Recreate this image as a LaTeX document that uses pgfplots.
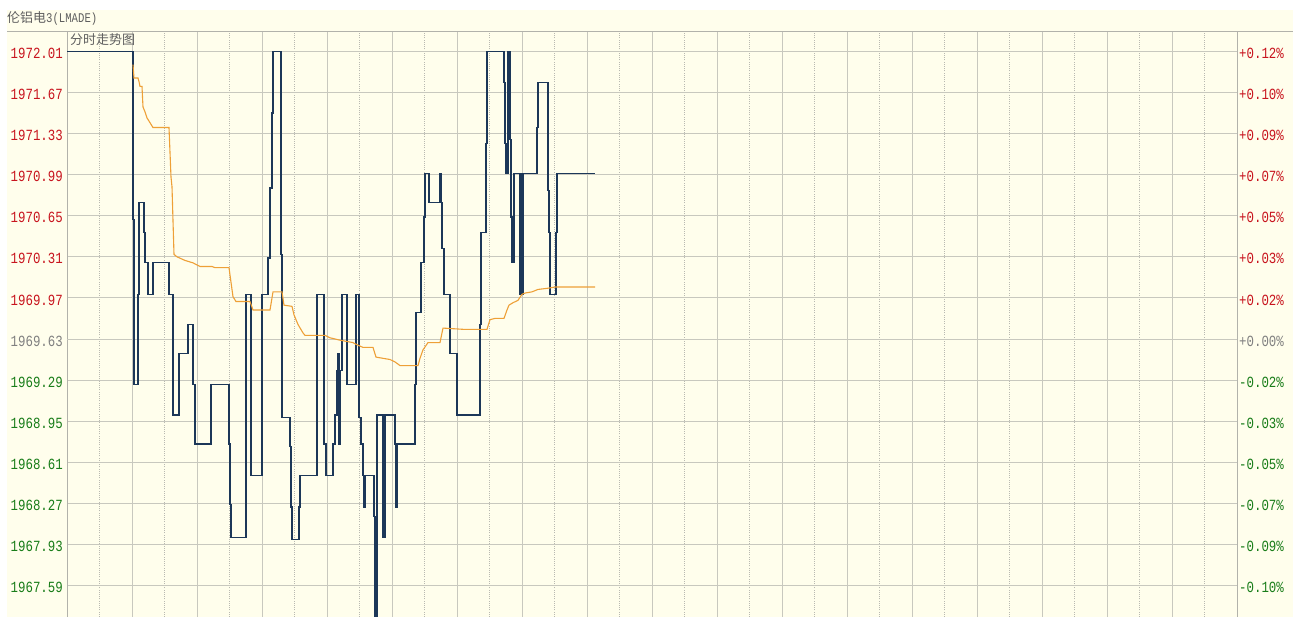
\documentclass[border=0pt]{standalone}
\usepackage{fontspec}
\usepackage{pgfplots}
\pgfplotsset{compat=1.18}
\setmainfont{Liberation Sans}
\newfontfamily\cjk{Noto Sans CJK SC}
\newfontfamily\numfont[FakeStretch=0.8]{Liberation Mono}
\definecolor{bg}{RGB}{255,254,236}
\definecolor{gridc}{RGB}{200,200,190}
\definecolor{navy}{RGB}{28,55,88}
\definecolor{orng}{RGB}{238,160,55}
\definecolor{upred}{RGB}{200,20,30}
\definecolor{dngreen}{RGB}{25,125,25}
\definecolor{flatgray}{RGB}{128,128,128}
\definecolor{titlegray}{RGB}{95,95,95}

\pgfplotstableread{
x y
0 1972.01
66 1970.62
67 1969.25
71 1970.00
72 1970.76
77 1970.51
78 1970.26
81 1970.00
86 1970.26
102 1970.00
106 1969.00
112 1969.51
121 1969.75
126 1969.25
128 1968.76
144 1969.25
162 1968.76
163 1968.26
164 1967.99
179 1970.00
184 1968.50
195 1970.00
201 1970.30
203 1970.88
205 1971.50
206 1972.01
214 1970.33
215 1968.98
223 1968.74
224 1968.24
225 1967.97
232 1968.24
233 1968.50
250 1970.00
257 1968.76
259 1968.50
266 1968.76
268 1969.00
270 1969.37
271 1969.51
272 1968.76
273 1969.37
275 1970.00
280 1969.25
289 1970.00
292 1968.98
294 1968.76
296 1968.50
297 1968.24
298 1968.50
307 1968.16
308 1967.20
310 1969.00
316 1967.99
318 1969.00
328 1968.76
329 1968.24
330 1968.76
348 1969.25
349 1969.85
354 1970.26
357 1970.64
358 1971.00
362 1970.76
373 1971.00
374 1970.76
375 1970.38
377 1970.00
383 1969.51
390 1969.00
413 1969.75
414 1970.51
419 1971.25
420 1972.01
437 1971.75
438 1971.25
439 1971.00
441 1972.01
443 1971.28
444 1970.64
445 1970.26
447 1971.00
453 1970.00
454 1971.00
455 1970.00
456 1971.00
470 1971.38
471 1971.75
481 1970.86
482 1970.51
483 1970.00
489 1970.51
490 1971.00
528 1971.00
}\price

\pgfplotstableread{
x y
66 1971.90
67 1971.79
71 1971.79
72 1971.76
73 1971.72
75 1971.72
76 1971.55
78 1971.51
80 1971.46
83 1971.42
86 1971.38
102 1971.38
104 1970.97
105 1970.89
107 1970.33
110 1970.31
118 1970.28
126 1970.26
133 1970.23
145 1970.23
148 1970.22
162 1970.22
166 1969.98
169 1969.94
183 1969.94
186 1969.87
203 1969.87
206 1970.02
215 1970.02
217 1969.91
225 1969.90
227 1969.83
231 1969.75
236 1969.68
238 1969.66
258 1969.66
263 1969.64
273 1969.62
286 1969.60
288 1969.59
296 1969.56
306 1969.56
309 1969.48
323 1969.46
328 1969.44
333 1969.41
351 1969.41
353 1969.47
356 1969.54
361 1969.60
373 1969.60
376 1969.72
396 1969.71
420 1969.71
423 1969.79
428 1969.80
437 1969.80
440 1969.87
442 1969.91
446 1969.93
451 1969.95
455 1970.00
458 1970.01
465 1970.02
471 1970.04
481 1970.05
488 1970.06
528 1970.06
}\avgline

\begin{document}
\begin{tikzpicture}
\fill[white] (0,0) rectangle (1293bp,617bp);
\fill[bg] (7bp,0) rectangle (1293bp,607bp);
\useasboundingbox (0,0) rectangle (1293bp,617bp);
\node[anchor=west, inner sep=0pt, text=titlegray] at (7bp,599bp)
  {\cjk\fontsize{13bp}{15bp}\selectfont 伦铝电{\numfont\fontsize{13.3bp}{15bp}\selectfont 3(LMADE)}};
\begin{axis}[
  at={(67bp,0bp)}, anchor=south west,
  scale only axis, width=1170bp, height=586bp,
  xmin=0, xmax=1170, ymin=1967.329, ymax=1972.179,
  axis background/.style={fill=bg},
  separate axis lines,
  x axis line style={draw=none},
  y axis line style={draw=gridc!70!gray, line width=0.8bp},
  xtick={0,65,...,1170}, xticklabels={},
  minor xtick={32.5,97.5,...,1140},
  xmajorgrids, xminorgrids, ymajorgrids,
  major grid style={gridc, line width=0.8bp},
  minor grid style={gridc!80!gray, line width=0.6bp, dash pattern=on 1bp off 1.2bp},
  major tick length=0pt, minor tick length=0pt,
  ytick={1967.59,1967.93,1968.27,1968.61,1968.95,1969.29,1969.63,1969.97,1970.31,1970.65,1970.99,1971.33,1971.67,1972.01},
  yticklabels={
    {\textcolor{dngreen}{1967.59}},{\textcolor{dngreen}{1967.93}},{\textcolor{dngreen}{1968.27}},
    {\textcolor{dngreen}{1968.61}},{\textcolor{dngreen}{1968.95}},{\textcolor{dngreen}{1969.29}},
    {\textcolor{flatgray}{1969.63}},
    {\textcolor{upred}{1969.97}},{\textcolor{upred}{1970.31}},{\textcolor{upred}{1970.65}},
    {\textcolor{upred}{1970.99}},{\textcolor{upred}{1971.33}},{\textcolor{upred}{1971.67}},
    {\textcolor{upred}{1972.01}}},
  yticklabel style={font=\numfont\fontsize{15.5bp}{17bp}\selectfont, inner sep=0pt, xshift=-4bp, yshift=-2bp},
  extra y ticks={1969.63}, extra y tick labels={},
  extra y tick style={grid style={gray!70, line width=1.6bp}},
  clip=true,
]
\addplot[const plot, navy, line width=1.2bp] table[x=x,y=y] {\price};
\addplot[orng, line width=1.1bp] table[x=x,y=y] {\avgline};
\end{axis}
\begin{axis}[
  at={(67bp,0bp)}, anchor=south west,
  scale only axis, width=1170bp, height=586bp,
  xmin=0, xmax=1170, ymin=1967.329, ymax=1972.179,
  axis x line=none, axis y line*=right,
  y axis line style={draw=gridc!70!gray, line width=0.8bp},
  major tick length=0pt,
  ytick={1967.59,1967.93,1968.27,1968.61,1968.95,1969.29,1969.63,1969.97,1970.31,1970.65,1970.99,1971.33,1971.67,1972.01},
  yticklabels={
    {\textcolor{dngreen}{-0.10\%}},{\textcolor{dngreen}{-0.09\%}},{\textcolor{dngreen}{-0.07\%}},
    {\textcolor{dngreen}{-0.05\%}},{\textcolor{dngreen}{-0.03\%}},{\textcolor{dngreen}{-0.02\%}},
    {\textcolor{flatgray}{+0.00\%}},
    {\textcolor{upred}{+0.02\%}},{\textcolor{upred}{+0.03\%}},{\textcolor{upred}{+0.05\%}},
    {\textcolor{upred}{+0.07\%}},{\textcolor{upred}{+0.09\%}},{\textcolor{upred}{+0.10\%}},
    {\textcolor{upred}{+0.12\%}}},
  yticklabel style={font=\numfont\fontsize{15.5bp}{17bp}\selectfont, inner sep=0pt, anchor=west, xshift=2bp, yshift=-2bp},
]
\addplot[draw=none] coordinates {(0,1969.63)};
\end{axis}
\draw[gridc!70!gray, line width=0.8bp] (7bp,586bp) -- (1293bp,586bp);
\node[anchor=west, inner sep=0pt, text=titlegray] at (70bp,577bp)
  {\cjk\fontsize{13bp}{15bp}\selectfont 分时走势图};
\end{tikzpicture}
\end{document}
